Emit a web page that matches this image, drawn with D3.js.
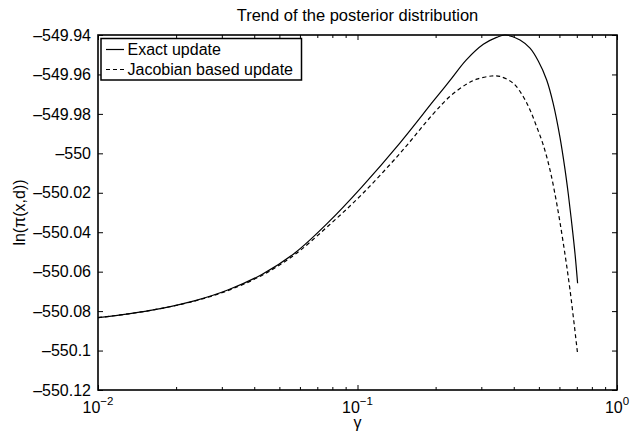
<!DOCTYPE html>
<html>
<head>
<meta charset="utf-8">
<script src="https://cdn.jsdelivr.net/npm/d3@7/dist/d3.min.js"></script>
<style>
  body { margin: 0; background: #fff; }
  text { font-family: "Liberation Sans", Arial, Helvetica, sans-serif; fill: #000; }
</style>
</head>
<body>
<script>
// gamma values (x) and the two posterior curves
var gammaExact = [0.01, 0.0131, 0.0176, 0.0237, 0.0318, 0.0428, 0.0575, 0.0773, 0.1038,
                  0.1456, 0.1955, 0.2273, 0.2627, 0.3054, 0.3436, 0.3701, 0.4229, 0.4622,
                  0.4973, 0.5358, 0.5682, 0.6030, 0.6304, 0.6491, 0.6690, 0.6890, 0.705];
var exactUpdate = [-550.0833, -550.0814, -550.0786, -550.0747, -550.0692, -550.0614, -550.0504,
                   -550.0349, -550.0171, -549.9948, -549.9737, -549.9630, -549.9526, -549.9447,
                   -549.9412, -549.9400, -549.9425, -549.9467, -549.9532, -549.9628, -549.9749,
                   -549.9919, -550.0081, -550.0206, -550.0353, -550.0509, -550.0659];

var gammaJacobian = [0.01, 0.0131, 0.0176, 0.0237, 0.0318, 0.0428, 0.0575, 0.0773, 0.1038,
                     0.1456, 0.1955, 0.2273, 0.2627, 0.2879, 0.3287, 0.3540, 0.3986, 0.4355,
                     0.4622, 0.4902, 0.5200, 0.5518, 0.5855, 0.6210, 0.6591, 0.705];
var jacobianUpdate = [-550.0833, -550.0814, -550.0786, -550.0748, -550.0695, -550.0619, -550.0512,
                      -550.0367, -550.0209, -550.0001, -549.9801, -549.9711, -549.9650, -549.9624,
                      -549.9608, -549.9610, -549.9645, -549.9713, -549.9780, -549.9865, -549.9958,
                      -550.0084, -550.0253, -550.0456, -550.0693, -550.1017];

var seriesNames = ["Exact update", "Jacobian based update"];

var yTicks = [-549.94, -549.96, -549.98, -550, -550.02, -550.04, -550.06, -550.08, -550.1, -550.12];
var xTicks = [0.01, 0.1, 1];
var xTickExp = ["\u22122", "\u22121", "0"];

var width = 630,
    height = 432;
var margin = {left: 98, right: 13, top: 35, bottom: 42};

var svg = d3.select("body")
    .append("svg")
    .attr("width", width)
    .attr("height", height);

var x = d3.scaleLog()
    .domain([0.01, 1])
    .range([margin.left, width - margin.right]);

var y = d3.scaleLinear()
    .domain([-550.12, -549.94])
    .range([height - margin.bottom, margin.top]);

// minor ticks: 2..9 in each decade
var minorTicks = [];
[0.01, 0.1].forEach(function(d){
    for (var k = 2; k <= 9; k++) minorTicks.push(d * k);
});

function fmtY(v){
    return String(+v.toFixed(2)).replace("-", "\u2013");
}

// y axes (ticks inside, MATLAB style)
svg.append("g")
    .attr("transform", "translate(" + margin.left + ",0)")
    .call(d3.axisLeft(y).tickValues(yTicks).tickSize(-5).tickPadding(7).tickFormat(fmtY))
    .call(function(g){
        g.select(".domain").remove();
        g.selectAll("text").attr("font-size", 16).attr("font-family", null);
    });

svg.append("g")
    .attr("transform", "translate(" + (width - margin.right) + ",0)")
    .call(d3.axisRight(y).tickValues(yTicks).tickSize(-5).tickFormat(""))
    .call(function(g){ g.select(".domain").remove(); });

// x axes: major + minor, bottom and top
function xAxisGroup(axis, ty){
    svg.append("g")
        .attr("transform", "translate(0," + ty + ")")
        .call(axis)
        .call(function(g){ g.select(".domain").remove(); });
}
xAxisGroup(d3.axisBottom(x).tickValues(xTicks).tickSize(-5).tickFormat(""), height - margin.bottom);
xAxisGroup(d3.axisBottom(x).tickValues(minorTicks).tickSize(-3).tickFormat(""), height - margin.bottom);
xAxisGroup(d3.axisTop(x).tickValues(xTicks).tickSize(-5).tickFormat(""), margin.top);
xAxisGroup(d3.axisTop(x).tickValues(minorTicks).tickSize(-3).tickFormat(""), margin.top);

// x tick labels with superscript exponents
var xl = svg.append("g").selectAll("text")
    .data(xTicks)
    .enter()
    .append("text")
    .attr("x", function(d){ return x(d); })
    .attr("y", height - margin.bottom + 23)
    .attr("text-anchor", "middle")
    .attr("font-size", 16);
xl.append("tspan").text("10");
xl.append("tspan")
    .attr("font-size", 11.5)
    .attr("dy", -8)
    .text(function(d, i){ return xTickExp[i]; });

// plot box
svg.append("rect")
    .attr("x", margin.left)
    .attr("y", margin.top)
    .attr("width", width - margin.left - margin.right)
    .attr("height", height - margin.top - margin.bottom)
    .attr("fill", "none")
    .attr("stroke", "#000")
    .attr("stroke-width", 1.6);

// curves
var line = d3.line()
    .x(function(d){ return x(d[0]); })
    .y(function(d){ return y(d[1]); })
    .curve(d3.curveCatmullRom.alpha(0.5));

svg.append("path")
    .datum(d3.zip(gammaExact, exactUpdate))
    .attr("d", line)
    .attr("fill", "none")
    .attr("stroke", "#000")
    .attr("stroke-width", 1.2);

svg.append("path")
    .datum(d3.zip(gammaJacobian, jacobianUpdate))
    .attr("d", line)
    .attr("fill", "none")
    .attr("stroke", "#000")
    .attr("stroke-width", 1.2)
    .attr("stroke-dasharray", "4,3");

// title and axis labels
svg.append("text")
    .attr("x", (margin.left + width - margin.right) / 2)
    .attr("y", 21)
    .attr("text-anchor", "middle")
    .attr("font-size", 16.5)
    .text("Trend of the posterior distribution");

svg.append("text")
    .attr("x", x(0.1))
    .attr("y", 428)
    .attr("text-anchor", "middle")
    .attr("font-size", 16)
    .text("\u03b3");

svg.append("text")
    .attr("transform", "translate(25," + ((margin.top + height - margin.bottom) / 2) + ") rotate(-90)")
    .attr("text-anchor", "middle")
    .attr("font-size", 16)
    .text("ln(\u03c0(x,d))");

// legend
var legend = svg.append("g");
legend.append("rect")
    .attr("x", 101)
    .attr("y", 38.5)
    .attr("width", 200.5)
    .attr("height", 41.5)
    .attr("fill", "#fff")
    .attr("stroke", "#000")
    .attr("stroke-width", 1.5);

var rows = legend.selectAll(".legrow")
    .data(seriesNames)
    .enter()
    .append("g")
    .attr("class", "legrow")
    .attr("transform", function(d, i){ return "translate(0," + (49.5 + i * 20) + ")"; });
rows.append("line")
    .attr("x1", 106).attr("x2", 124)
    .attr("stroke", "#000")
    .attr("stroke-width", 1.2)
    .attr("stroke-dasharray", function(d, i){ return i ? "4,3" : null; });
rows.append("text")
    .attr("x", 127.5)
    .attr("y", 5.3)
    .attr("font-size", 16)
    .text(function(d){ return d; });
</script>
</body>
</html>
